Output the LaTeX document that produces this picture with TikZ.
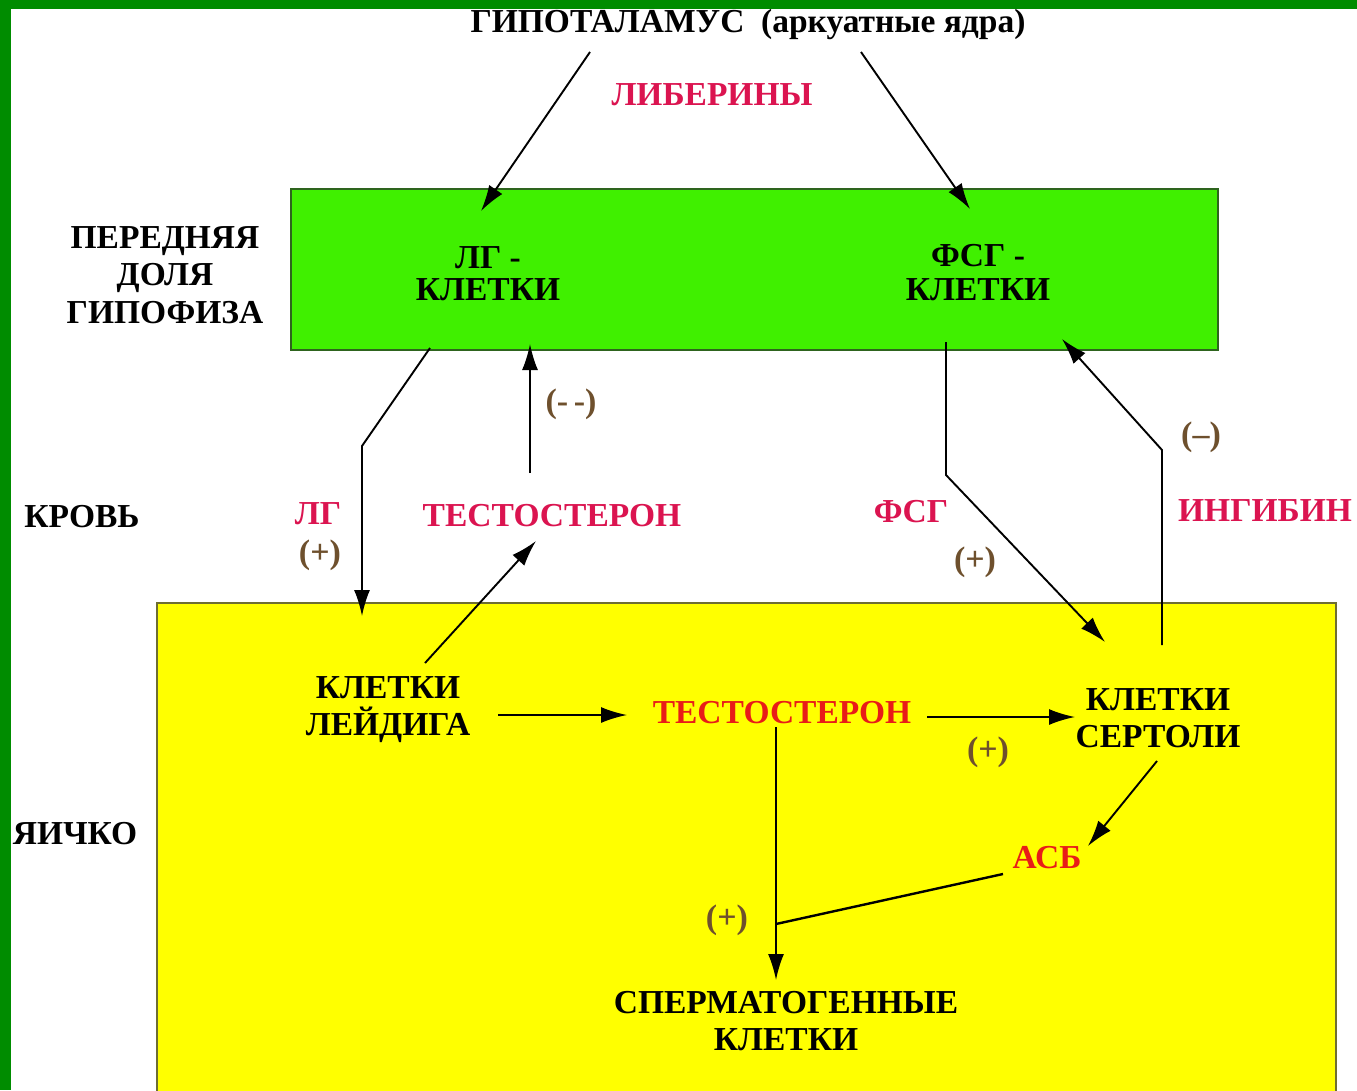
\documentclass[tikz,border=0pt]{standalone}
\usepackage{fontspec}
\setmainfont{Liberation Serif}
\usetikzlibrary{arrows.meta}
\definecolor{frameg}{RGB}{0,140,0}
\definecolor{boxg}{RGB}{64,240,0}
\definecolor{boxgb}{RGB}{46,100,30}
\definecolor{boxy}{RGB}{255,255,0}
\definecolor{boxyb}{RGB}{110,110,50}
\definecolor{pinkh}{RGB}{219,20,80}
\definecolor{redh}{RGB}{232,28,24}
\definecolor{brownp}{RGB}{110,80,45}
\tikzset{
  lbl/.style={font=\fontsize{33.5}{37}\selectfont\bfseries, inner sep=0pt, align=center, anchor=base},
  blk/.style={lbl, text=black},
  pnk/.style={lbl, text=pinkh},
  rdd/.style={lbl, text=redh},
  sgn/.style={font=\fontsize{34}{36}\selectfont\bfseries, inner sep=0pt, text=brownp, anchor=center},
  conn/.style={line width=1.9pt, draw=black},
  arr/.style={conn, -{Latex[length=26pt,width=16pt]}},
}
\begin{document}
\begin{tikzpicture}[x=1pt,y=-1pt]
\useasboundingbox (0,0) rectangle (1357,1090);
\clip (0,0) rectangle (1357,1090);
\fill[white] (0,0) rectangle (1357,1090);
% boxes
\draw[fill=boxg, draw=boxgb, line width=2pt] (291,189) rectangle (1218,350);
\draw[fill=boxy, draw=boxyb, line width=2pt] (157,603) rectangle (1336,1100);
% texts
\node[blk] (hyp) at (748,32) {ГИПОТАЛАМУС\ \ (аркуатные ядра)};
\node[pnk] (lib) at (712,105) {ЛИБЕРИНЫ};
\node[blk, font=\fontsize{33.5}{32}\selectfont\bfseries] (lgc) at (488,300) {ЛГ -\\КЛЕТКИ};
\node[blk, font=\fontsize{33.5}{34}\selectfont\bfseries] (fsgc) at (978,300) {ФСГ -\\КЛЕТКИ};
\node[blk, font=\fontsize{33.5}{37.5}\selectfont\bfseries] (pit) at (165,323) {ПЕРЕДНЯЯ\\ДОЛЯ\\ГИПОФИЗА};
\node[blk] (blood) at (82,527) {КРОВЬ};
\node[pnk] (lgb) at (318,524) {ЛГ};
\node[sgn] (p1) at (320,555) {(+)};
\node[pnk] (tb) at (552,526) {ТЕСТОСТЕРОН};
\node[sgn] (m1) at (571,404) {(-\,-)};
\node[pnk] (fsgb) at (911,522) {ФСГ};
\node[sgn] (p2) at (975,562) {(+)};
\node[pnk] (inh) at (1265,521) {ИНГИБИН};
\node[sgn] (m2) at (1201,437) {(--)};
\node[blk] (test) at (75,844) {ЯИЧКО};
\node[blk, font=\fontsize{33.5}{37}\selectfont\bfseries] (leyd) at (388,735) {КЛЕТКИ\\ЛЕЙДИГА};
\node[rdd] (tt) at (782,723) {ТЕСТОСТЕРОН};
\node[sgn] (p3) at (988,752) {(+)};
\node[blk, font=\fontsize{33.5}{37}\selectfont\bfseries] (sert) at (1158,747) {КЛЕТКИ\\СЕРТОЛИ};
\node[rdd] (abp) at (1047,868) {АСБ};
\node[sgn] (p4) at (727,920) {(+)};
\node[blk, font=\fontsize{33.5}{37}\selectfont\bfseries] (sperm) at (786,1050) {СПЕРМАТОГЕННЫЕ\\КЛЕТКИ};
% coordinates
\coordinate (h1) at (590,52);
\coordinate (h1e) at (481,211);
\coordinate (h2) at (861,52);
\coordinate (h2e) at (970,209);
\coordinate (lg0) at (430,348);
\coordinate (lg1) at (362,446);
\coordinate (lg2) at (362,616);
\coordinate (tu0) at (530,473);
\coordinate (tu1) at (530,344);
\coordinate (ly0) at (425,663);
\coordinate (ly1) at (536,541);
\coordinate (f0) at (946,342);
\coordinate (f1) at (946,475);
\coordinate (f2) at (1105,642);
\coordinate (i0) at (1162,645);
\coordinate (i1) at (1162,450);
\coordinate (i2) at (1062,339);
\coordinate (a0) at (498,715);
\coordinate (a1) at (627,715);
\coordinate (b0) at (927,717);
\coordinate (b1) at (1075,717);
\coordinate (c0) at (1157,761);
\coordinate (c1) at (1088,846);
\coordinate (d0) at (1003,874);
\coordinate (d1) at (776,924);
\coordinate (v0) at (776,727);
\coordinate (v1) at (776,980);
% connectors
\draw[arr] (h1) -- (h1e);
\draw[arr] (h2) -- (h2e);
\draw[arr] (lg0) -- (lg1) -- (lg2);
\draw[arr] (tu0) -- (tu1);
\draw[arr] (ly0) -- (ly1);
\draw[arr] (f0) -- (f1) -- (f2);
\draw[arr] (i0) -- (i1) -- (i2);
\draw[arr] (a0) -- (a1);
\draw[arr] (b0) -- (b1);
\draw[arr] (c0) -- (c1);
\draw[conn, line width=2.4pt] (d0) -- (d1);
\draw[arr] (v0) -- (v1);
% frame
\fill[frameg] (0,0) rectangle (11,1090);
\fill[frameg] (0,0) rectangle (1357,9);
\end{tikzpicture}
\end{document}
